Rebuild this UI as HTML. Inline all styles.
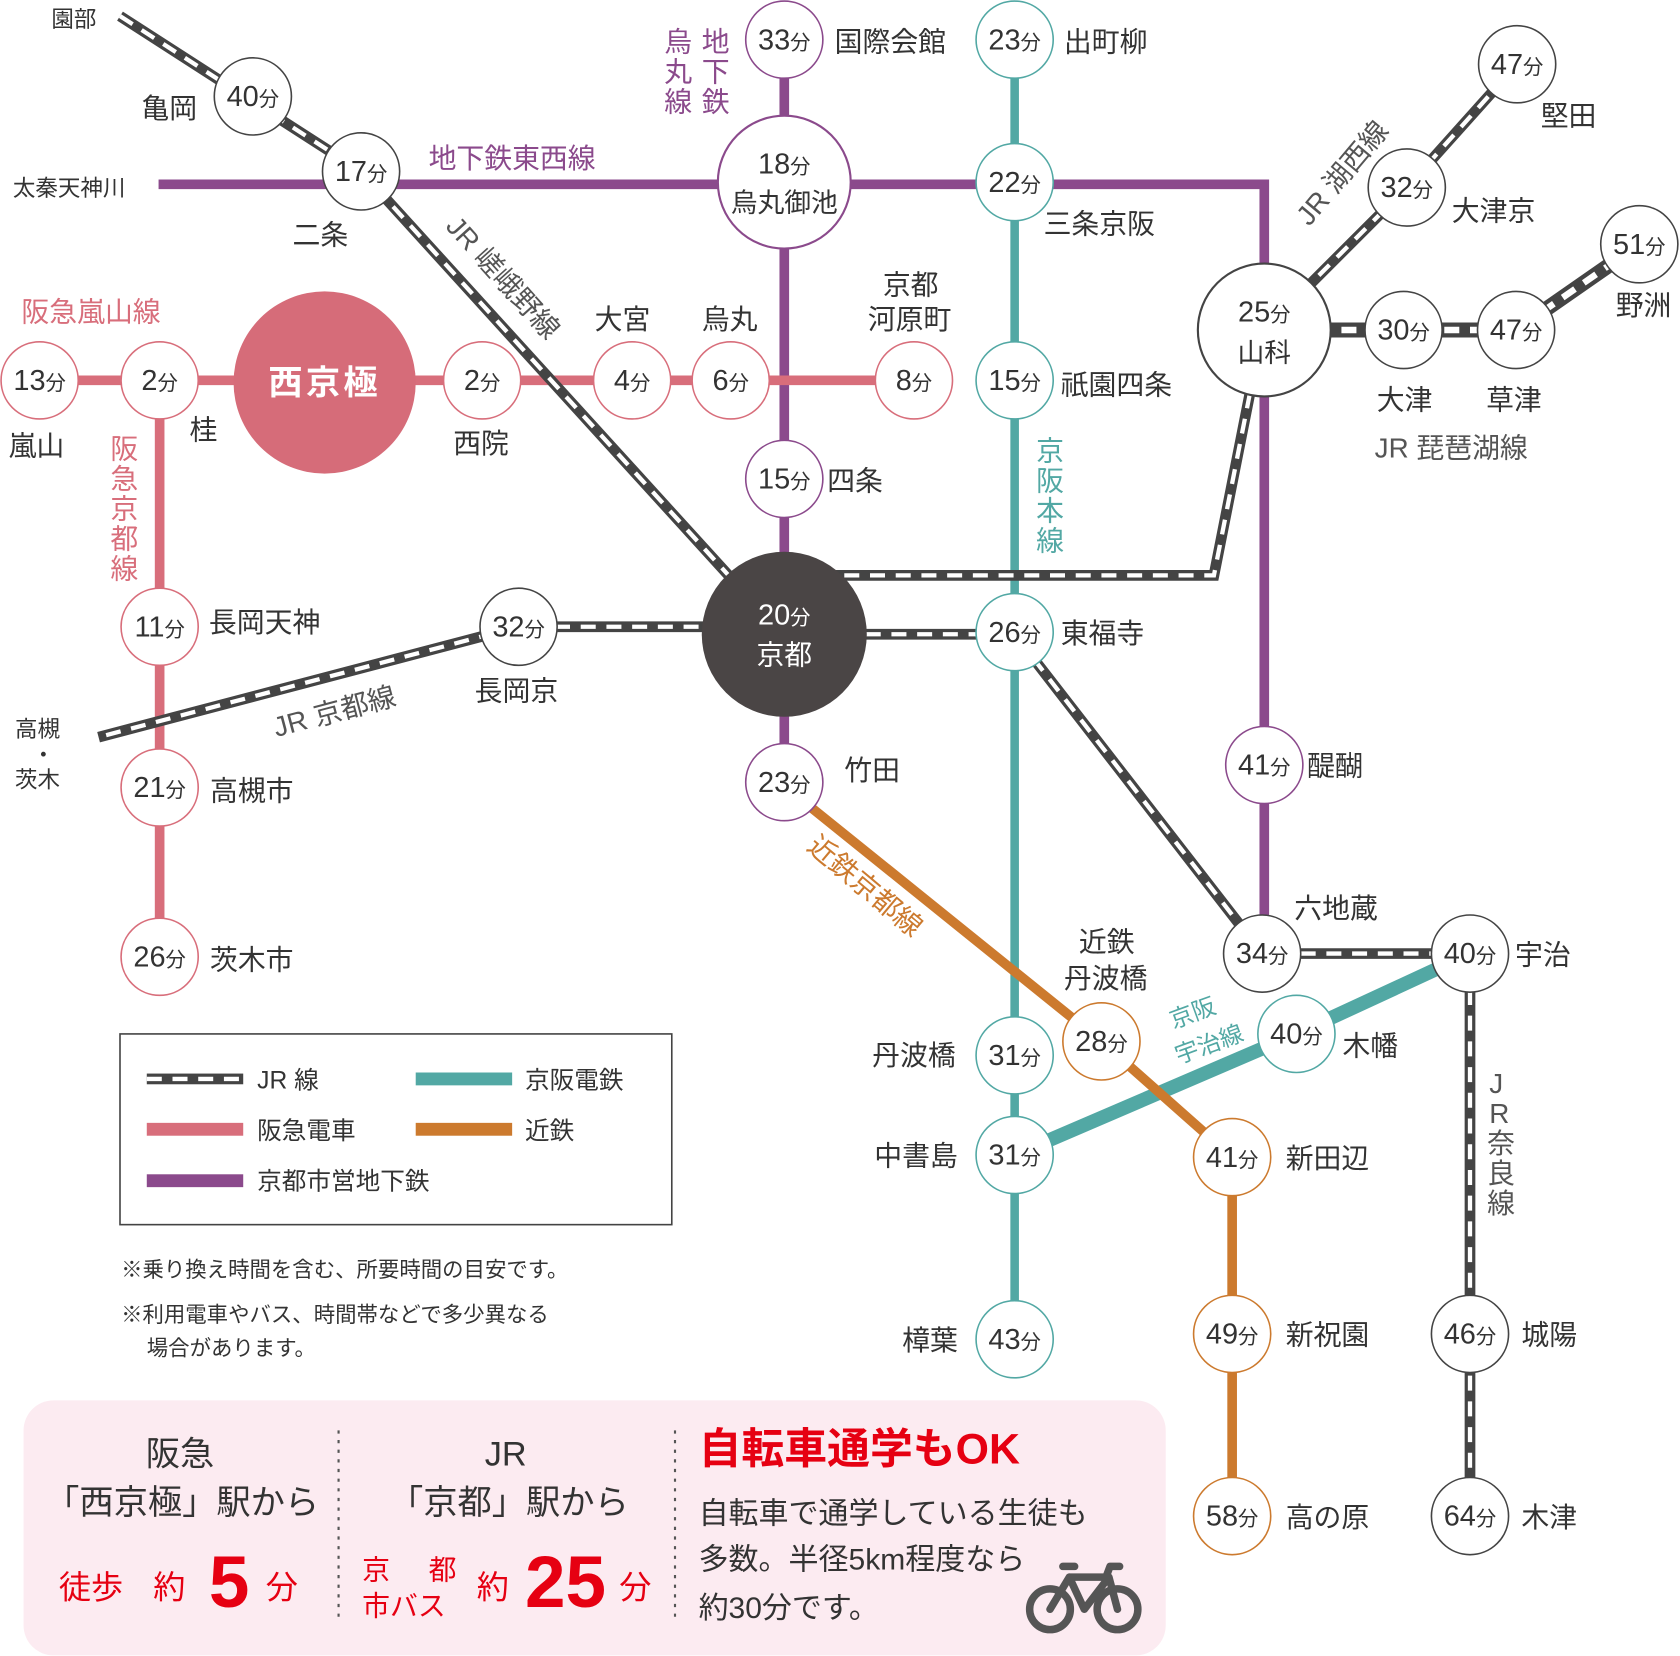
<!DOCTYPE html>
<html><head><meta charset="utf-8"><style>
html,body{margin:0;padding:0;background:#fff}
svg{display:block}
text{font-family:"Liberation Sans","Noto Sans CJK JP",sans-serif;fill:#333}
.st{font-size:26px}
.ct{font-size:27px;text-anchor:middle}
.ct tspan{font-size:19px}
</style></head><body>
<svg width="1680" height="1656" viewBox="0 0 1568 1545.6" preserveAspectRatio="none" xmlns="http://www.w3.org/2000/svg">
<!-- purple lines -->
<g stroke="#8b4a8c" stroke-width="9" fill="none">
<path d="M148 172 H1180 V890"/>
<path d="M732 37 V730"/>
</g>
<!-- teal -->
<g stroke="#52a8a4" fill="none">
<path d="M947 37 V1250" stroke-width="8"/>
<path d="M947 1078 L1210 965 L1372 890" stroke-width="13"/>
</g>
<!-- pink -->
<g stroke="#d86e7b" stroke-width="9" fill="none">
<path d="M37 355 H853"/>
<path d="M149 355 V893"/>
</g>
<!-- orange -->
<g stroke="#cc7a2e" stroke-width="9" fill="none">
<path d="M755 752 L1028 972 L1150 1080 V1415"/>
</g>
<!-- JR -->
<g fill="none">
<g stroke="#444" stroke-width="10">
<path d="M112 15 L337 160 L690 548"/>
<path d="M740 537 H1133 L1168 360"/>
<path d="M700 585 H484 L92 688"/>
<path d="M760 592 H947 L1178 890 H1372 V1415"/>
<path d="M1180 308 L1313 175 L1416 60"/>
<path d="M1180 308 H1415 L1530 228" stroke-width="14"/>
</g>
<g stroke="#fff" stroke-width="4" stroke-dasharray="14 10">
<path d="M112 15 L337 160 L690 548"/>
<path d="M740 537 H1133 L1168 360"/>
<path d="M700 585 H484 L92 688"/>
<path d="M760 592 H947 L1178 890 H1372 V1415"/>
<path d="M1180 308 L1313 175 L1416 60"/>
<path d="M1180 308 H1415 L1530 228" stroke-width="6"/>
</g>
</g>
<!-- big circles -->
<circle cx="303" cy="357" r="85" fill="#d66c79"/>
<text x="303" y="368" font-size="32" text-anchor="middle" style="fill:#fff;font-weight:bold;letter-spacing:3px">西京極</text>
<circle cx="732" cy="592" r="77" fill="#4a4545"/>
<text x="732" y="583" class="ct" style="fill:#fff">20<tspan style="fill:#fff">分</tspan></text>
<text x="732" y="620" font-size="26" text-anchor="middle" style="fill:#fff">京都</text>
<circle cx="732" cy="170" r="62" fill="#fff" stroke="#8b4a8c" stroke-width="2"/>
<text x="732" y="162" class="ct">18<tspan>分</tspan></text>
<text x="732" y="198" font-size="25" text-anchor="middle">烏丸御池</text>
<circle cx="1180" cy="308" r="62" fill="#fff" stroke="#444" stroke-width="2"/>
<text x="1180" y="300" class="ct">25<tspan>分</tspan></text>
<text x="1180" y="338" font-size="25" text-anchor="middle">山科</text>
<g stroke="#444">
<circle cx="236" cy="90" r="36" fill="#fff" stroke-width="1.5"/>
<circle cx="337" cy="160" r="36" fill="#fff" stroke-width="1.5"/>
<circle cx="484" cy="585" r="36" fill="#fff" stroke-width="1.5"/>
<circle cx="1313" cy="175" r="36" fill="#fff" stroke-width="1.5"/>
<circle cx="1416" cy="60" r="36" fill="#fff" stroke-width="1.5"/>
<circle cx="1310" cy="308" r="36" fill="#fff" stroke-width="1.5"/>
<circle cx="1415" cy="308" r="36" fill="#fff" stroke-width="1.5"/>
<circle cx="1530" cy="228" r="36" fill="#fff" stroke-width="1.5"/>
<circle cx="1178" cy="890" r="36" fill="#fff" stroke-width="1.5"/>
<circle cx="1372" cy="890" r="36" fill="#fff" stroke-width="1.5"/>
<circle cx="1372" cy="1245" r="36" fill="#fff" stroke-width="1.5"/>
<circle cx="1372" cy="1415" r="36" fill="#fff" stroke-width="1.5"/>
</g>
<g stroke="#8b4a8c" fill="#fff" stroke-width="1.5">
<circle cx="732" cy="37" r="36"/><circle cx="732" cy="447" r="36"/>
<circle cx="732" cy="730" r="36"/><circle cx="1180" cy="714" r="36"/>
</g>
<g stroke="#52a8a4" fill="#fff" stroke-width="1.5">
<circle cx="947" cy="37" r="36"/><circle cx="947" cy="170" r="36"/>
<circle cx="947" cy="355" r="36"/><circle cx="947" cy="590" r="36"/>
<circle cx="947" cy="985" r="36"/><circle cx="947" cy="1078" r="36"/>
<circle cx="947" cy="1250" r="36"/><circle cx="1210" cy="965" r="36"/>
</g>
<g stroke="#d86e7b" fill="#fff" stroke-width="1.5">
<circle cx="37" cy="355" r="36"/><circle cx="149" cy="355" r="36"/>
<circle cx="450" cy="355" r="36"/><circle cx="590" cy="355" r="36"/>
<circle cx="682" cy="355" r="36"/><circle cx="853" cy="355" r="36"/>
<circle cx="149" cy="585" r="36"/><circle cx="149" cy="735" r="36"/>
<circle cx="149" cy="893" r="36"/>
</g>
<g stroke="#cc7a2e" fill="#fff" stroke-width="1.5">
<circle cx="1028" cy="972" r="36"/><circle cx="1150" cy="1080" r="36"/>
<circle cx="1150" cy="1245" r="36"/><circle cx="1150" cy="1415" r="36"/>
</g>
<g>
<text class="ct" x="236" y="99">40<tspan>分</tspan></text>
<text class="ct" x="337" y="169">17<tspan>分</tspan></text>
<text class="ct" x="484" y="594">32<tspan>分</tspan></text>
<text class="ct" x="1313" y="184">32<tspan>分</tspan></text>
<text class="ct" x="1416" y="69">47<tspan>分</tspan></text>
<text class="ct" x="1310" y="317">30<tspan>分</tspan></text>
<text class="ct" x="1415" y="317">47<tspan>分</tspan></text>
<text class="ct" x="1530" y="237">51<tspan>分</tspan></text>
<text class="ct" x="1178" y="899">34<tspan>分</tspan></text>
<text class="ct" x="1372" y="899">40<tspan>分</tspan></text>
<text class="ct" x="1372" y="1254">46<tspan>分</tspan></text>
<text class="ct" x="1372" y="1424">64<tspan>分</tspan></text>
<text class="ct" x="732" y="46">33<tspan>分</tspan></text>
<text class="ct" x="732" y="456">15<tspan>分</tspan></text>
<text class="ct" x="732" y="739">23<tspan>分</tspan></text>
<text class="ct" x="1180" y="723">41<tspan>分</tspan></text>
<text class="ct" x="947" y="46">23<tspan>分</tspan></text>
<text class="ct" x="947" y="179">22<tspan>分</tspan></text>
<text class="ct" x="947" y="364">15<tspan>分</tspan></text>
<text class="ct" x="947" y="599">26<tspan>分</tspan></text>
<text class="ct" x="947" y="994">31<tspan>分</tspan></text>
<text class="ct" x="947" y="1087">31<tspan>分</tspan></text>
<text class="ct" x="947" y="1259">43<tspan>分</tspan></text>
<text class="ct" x="1210" y="974">40<tspan>分</tspan></text>
<text class="ct" x="37" y="364">13<tspan>分</tspan></text>
<text class="ct" x="149" y="364">2<tspan>分</tspan></text>
<text class="ct" x="450" y="364">2<tspan>分</tspan></text>
<text class="ct" x="590" y="364">4<tspan>分</tspan></text>
<text class="ct" x="682" y="364">6<tspan>分</tspan></text>
<text class="ct" x="853" y="364">8<tspan>分</tspan></text>
<text class="ct" x="149" y="594">11<tspan>分</tspan></text>
<text class="ct" x="149" y="744">21<tspan>分</tspan></text>
<text class="ct" x="149" y="902">26<tspan>分</tspan></text>
<text class="ct" x="1028" y="981">28<tspan>分</tspan></text>
<text class="ct" x="1150" y="1089">41<tspan>分</tspan></text>
<text class="ct" x="1150" y="1254">49<tspan>分</tspan></text>
<text class="ct" x="1150" y="1424">58<tspan>分</tspan></text>
</g>
<g class="st">
<text x="48" y="25" font-size="21">園部</text>
<text x="132" y="110">亀岡</text>
<text x="12" y="183" font-size="21">太秦天神川</text>
<text x="273" y="228">二条</text>
<text x="779" y="48">国際会館</text>
<text x="993" y="48">出町柳</text>
<text x="974" y="218">三条京阪</text>
<text x="824" y="275">京都</text>
<text x="810" y="307">河原町</text>
<text x="555" y="307">大宮</text>
<text x="655" y="307">烏丸</text>
<text x="8" y="425">嵐山</text>
<text x="177" y="410">桂</text>
<text x="423" y="423">西院</text>
<text x="990" y="368">祇園四条</text>
<text x="772" y="458">四条</text>
<text x="195" y="590">長岡天神</text>
<text x="443" y="654">長岡京</text>
<text x="14" y="688" font-size="21">高槻</text>
<text x="30" y="712" font-size="21">・</text>
<text x="14" y="735" font-size="21">茨木</text>
<text x="196" y="747">高槻市</text>
<text x="196" y="905">茨木市</text>
<text x="990" y="600">東福寺</text>
<text x="788" y="728">竹田</text>
<text x="1220" y="724">醍醐</text>
<text x="1208" y="857">六地蔵</text>
<text x="1414" y="900">宇治</text>
<text x="1007" y="888">近鉄</text>
<text x="993" y="922">丹波橋</text>
<text x="814" y="994">丹波橋</text>
<text x="816" y="1088">中書島</text>
<text x="1253" y="985">木幡</text>
<text x="1200" y="1090">新田辺</text>
<text x="842" y="1260">樟葉</text>
<text x="1200" y="1255">新祝園</text>
<text x="1200" y="1425">高の原</text>
<text x="1420" y="1255">城陽</text>
<text x="1420" y="1425">木津</text>
<text x="1355" y="206">大津京</text>
<text x="1438" y="117">堅田</text>
<text x="1508" y="294">野洲</text>
<text x="1285" y="382">大津</text>
<text x="1387" y="382">草津</text>
<text x="1283" y="427" style="fill:#555">JR 琵琶湖線</text>
</g>
<g font-size="26">
<text x="400" y="157" style="fill:#8b4a8c">地下鉄東西線</text>
<text x="20" y="300" style="fill:#d86e7b">阪急嵐山線</text>
<text x="620" y="48" style="fill:#8b4a8c">烏</text><text x="620" y="76" style="fill:#8b4a8c">丸</text><text x="620" y="104" style="fill:#8b4a8c">線</text>
<text x="655" y="48" style="fill:#8b4a8c">地</text><text x="655" y="76" style="fill:#8b4a8c">下</text><text x="655" y="104" style="fill:#8b4a8c">鉄</text>
<text x="103" y="428" style="fill:#d86e7b">阪</text><text x="103" y="456" style="fill:#d86e7b">急</text><text x="103" y="484" style="fill:#d86e7b">京</text><text x="103" y="512" style="fill:#d86e7b">都</text><text x="103" y="540" style="fill:#d86e7b">線</text>
<text x="967" y="430" style="fill:#52a8a4">京</text><text x="967" y="458" style="fill:#52a8a4">阪</text><text x="967" y="486" style="fill:#52a8a4">本</text><text x="967" y="514" style="fill:#52a8a4">線</text>
<text x="1390" y="1020" style="fill:#555">J</text><text x="1390" y="1048" style="fill:#555">R</text><text x="1388" y="1076" style="fill:#555">奈</text><text x="1388" y="1104" style="fill:#555">良</text><text x="1388" y="1132" style="fill:#555">線</text>
<text transform="translate(415 212) rotate(48)" style="fill:#555">JR 嵯峨野線</text>
<text transform="translate(258 688) rotate(-15)" style="fill:#555">JR 京都線</text>
<text transform="translate(1222 212) rotate(-50)" style="fill:#555">JR 湖西線</text>
<text transform="translate(752 792) rotate(40)" style="fill:#cc7a2e">近鉄京都線</text>
<text transform="translate(1095 960) rotate(-20)" font-size="22" style="fill:#52a8a4">京阪</text>
<text transform="translate(1100 993) rotate(-20)" font-size="22" style="fill:#52a8a4">宇治線</text>
</g>
<rect x="112" y="965" width="515" height="178" fill="none" stroke="#444" stroke-width="1.5"/>
<rect x="137" y="1002" width="90" height="10" fill="#444"/>
<line x1="137" y1="1007" x2="227" y2="1007" stroke="#fff" stroke-width="4" stroke-dasharray="14 10"/>
<rect x="137" y="1048" width="90" height="12" fill="#d86e7b"/>
<rect x="137" y="1096" width="90" height="12" fill="#8b4a8c"/>
<rect x="388" y="1001" width="90" height="12" fill="#52a8a4"/>
<rect x="388" y="1048" width="90" height="12" fill="#cc7a2e"/>
<g font-size="23">
<text x="240" y="1016">JR 線</text><text x="240" y="1063">阪急電車</text><text x="240" y="1110">京都市営地下鉄</text>
<text x="490" y="1016">京阪電鉄</text><text x="490" y="1063">近鉄</text>
<text x="113" y="1192" font-size="20">※乗り換え時間を含む、所要時間の目安です。</text>
<text x="113" y="1234" font-size="20">※利用電車やバス、時間帯などで多少異なる</text>
<text x="137" y="1265" font-size="20">場合があります。</text>
</g>
<rect x="22" y="1307" width="1066" height="238" rx="28" fill="#fcebf1"/>
<line x1="316" y1="1335" x2="316" y2="1515" stroke="#555" stroke-width="2" stroke-dasharray="3 6"/>
<line x1="630" y1="1335" x2="630" y2="1515" stroke="#555" stroke-width="2" stroke-dasharray="3 6"/>
<g font-size="32">
<text x="168" y="1368" text-anchor="middle">阪急</text>
<text x="170" y="1413" text-anchor="middle">「西京極」駅から</text>
<text x="472" y="1368" text-anchor="middle">JR</text>
<text x="475" y="1413" text-anchor="middle">「京都」駅から</text>
<text x="55" y="1492" style="fill:#e60012" font-size="30">徒歩</text>
<text x="143" y="1492" style="fill:#e60012" font-size="30">約</text>
<text x="195" y="1500" style="fill:#e60012;font-weight:bold" font-size="68">5</text>
<text x="248" y="1492" style="fill:#e60012" font-size="30">分</text>
<text x="338" y="1474" style="fill:#e60012" font-size="26">京</text>
<text x="400" y="1474" style="fill:#e60012" font-size="26">都</text>
<text x="338" y="1508" style="fill:#e60012" font-size="26">市バス</text>
<text x="445" y="1492" style="fill:#e60012" font-size="30">約</text>
<text x="490" y="1500" style="fill:#e60012;font-weight:bold" font-size="68">25</text>
<text x="578" y="1492" style="fill:#e60012" font-size="30">分</text>
<text x="652" y="1366" style="fill:#e60012;font-weight:bold" font-size="40">自転車通学もOK</text>
<text x="652" y="1422" font-size="28">自転車で通学している生徒も</text>
<text x="652" y="1465" font-size="28">多数。半径5km程度なら</text>
<text x="652" y="1510" font-size="28">約30分です。</text>
</g>
<g fill="none" stroke="#555" stroke-width="7" stroke-linecap="round" stroke-linejoin="round">
<circle cx="980" cy="1502" r="19"/>
<circle cx="1043" cy="1502" r="19"/>
<path d="M980 1502 L998 1472 H1035 L1043 1502 M998 1472 L1012 1502 L1035 1472 M992 1462 H1003 M1033 1470 L1036 1462 H1045"/>
</g>
</svg>
</body></html>
